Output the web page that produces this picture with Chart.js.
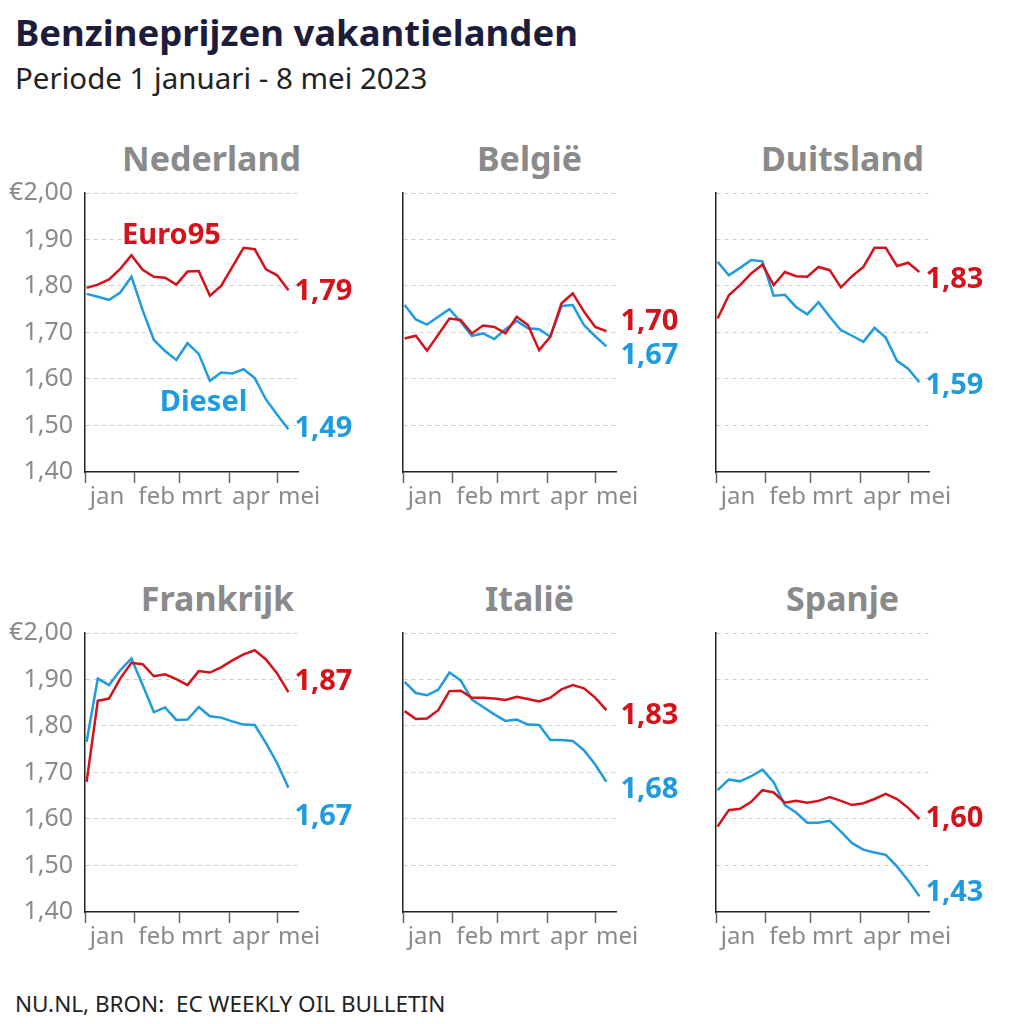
<!DOCTYPE html>
<html>
<head>
<meta charset="utf-8">
<title>Benzineprijzen vakantielanden</title>
<script src="https://cdn.jsdelivr.net/npm/chart.js@4"></script>
<style>
  body { margin: 0; background: #fff; font-family: 'Noto Sans', sans-serif; }
  #page { position: relative; width: 1024px; height: 1024px; overflow: hidden; background: #fff; }
  .title { position: absolute; left: 15px; top: 10px; font-size: 36.5px; line-height: 44px; font-weight: 700; color: #1c1c3b; white-space: nowrap; }
  .subtitle { position: absolute; left: 15px; top: 60px; font-size: 29.5px; line-height: 36px; color: #222; white-space: nowrap; }
  .footer { position: absolute; left: 15px; top: 990px; font-size: 22.5px; line-height: 28px; color: #222; white-space: pre; }
  .panel-title { position: absolute; width: 300px; text-align: center; font-size: 34px; line-height: 40px; font-weight: 700; color: #8a8a8a; }
  .box { position: absolute; width: 370px; }
</style>
</head>
<body>
<div id="page">
  <div class="title">Benzineprijzen vakantielanden</div>
  <div class="subtitle">Periode 1 januari - 8 mei 2023</div>
  <div class="footer">NU.NL, BRON:  EC WEEKLY OIL BULLETIN</div>
</div>

<script>
'use strict';

// ***** DATA *****
const weeks = [
  '2023-01-02', '2023-01-09', '2023-01-16', '2023-01-23', '2023-01-30',
  '2023-02-06', '2023-02-13', '2023-02-20', '2023-02-27',
  '2023-03-06', '2023-03-13', '2023-03-20', '2023-03-27',
  '2023-04-03', '2023-04-10', '2023-04-17', '2023-04-24',
  '2023-05-01', '2023-05-08'
];
const monthStarts = ['2023-01-01', '2023-02-01', '2023-03-01', '2023-04-01', '2023-05-01'];
const monthLabels = ['jan', 'feb', 'mrt', 'apr', 'mei'];
const priceTicks = [1.40, 1.50, 1.60, 1.70, 1.80, 1.90, 2.00];

const countries = ['Nederland', 'België', 'Duitsland', 'Frankrijk', 'Italië', 'Spanje'];
const seriesNames = ['Euro95', 'Diesel'];

const euro95NL = [1.796, 1.803, 1.814, 1.837, 1.866, 1.835, 1.820, 1.818, 1.803, 1.831, 1.832, 1.779, 1.800, 1.841, 1.882, 1.879, 1.836, 1.823, 1.791];
const dieselNL = [1.783, 1.777, 1.770, 1.786, 1.820, 1.748, 1.684, 1.660, 1.641, 1.677, 1.654, 1.596, 1.614, 1.612, 1.621, 1.602, 1.556, 1.523, 1.492];

const euro95BE = [1.687, 1.693, 1.661, 1.695, 1.730, 1.727, 1.698, 1.715, 1.712, 1.698, 1.734, 1.716, 1.662, 1.691, 1.763, 1.784, 1.745, 1.712, 1.703];
const dieselBE = [1.759, 1.728, 1.717, 1.734, 1.750, 1.723, 1.693, 1.698, 1.686, 1.707, 1.725, 1.709, 1.707, 1.691, 1.757, 1.759, 1.716, 1.692, 1.670];

const euro95DE = [1.730, 1.780, 1.802, 1.827, 1.846, 1.802, 1.830, 1.821, 1.820, 1.841, 1.834, 1.797, 1.821, 1.841, 1.882, 1.882, 1.843, 1.850, 1.830];
const dieselDE = [1.852, 1.823, 1.839, 1.856, 1.853, 1.779, 1.781, 1.755, 1.739, 1.765, 1.734, 1.705, 1.693, 1.680, 1.710, 1.689, 1.639, 1.622, 1.593];

const euro95FR = [1.680, 1.854, 1.859, 1.902, 1.936, 1.933, 1.907, 1.911, 1.901, 1.888, 1.918, 1.915, 1.926, 1.941, 1.954, 1.963, 1.943, 1.913, 1.873];
const dieselFR = [1.766, 1.902, 1.888, 1.920, 1.945, 1.888, 1.830, 1.840, 1.813, 1.814, 1.841, 1.821, 1.818, 1.810, 1.803, 1.802, 1.763, 1.720, 1.667];

const euro95IT = [1.832, 1.815, 1.816, 1.834, 1.875, 1.876, 1.861, 1.861, 1.859, 1.856, 1.863, 1.858, 1.853, 1.861, 1.879, 1.888, 1.881, 1.861, 1.834];
const dieselIT = [1.895, 1.871, 1.866, 1.878, 1.915, 1.898, 1.857, 1.841, 1.825, 1.811, 1.814, 1.803, 1.802, 1.770, 1.770, 1.768, 1.748, 1.717, 1.680];

const euro95ES = [1.584, 1.619, 1.622, 1.637, 1.662, 1.657, 1.635, 1.639, 1.635, 1.639, 1.647, 1.639, 1.630, 1.634, 1.643, 1.654, 1.643, 1.624, 1.600];
const dieselES = [1.662, 1.685, 1.681, 1.692, 1.706, 1.679, 1.630, 1.614, 1.592, 1.592, 1.596, 1.573, 1.548, 1.534, 1.528, 1.523, 1.498, 1.468, 1.434];

const euro95 = [euro95NL, euro95BE, euro95DE, euro95FR, euro95IT, euro95ES];
const diesel = [dieselNL, dieselBE, dieselDE, dieselFR, dieselIT, dieselES];

// ***** LAYOUT / STYLE *****
const RED = '#d3121b';
const BLUE = '#1f9be0';
const GREY = '#8a8a8a';
const AXIS = '#222';
const TICK = '#666';

const colX = [85, 403, 716];
const rowY = [193, 633];
const plotW = 213;
const plotH = 279;
const padTop = 30;
const yAxisW = 85;
const xAxisH = 48;
const boxW = 370;
const padRight = boxW - yAxisW - plotW;

// gap between line end and its value, per column, in px
const labelGap = [6, 14, 6];
// small vertical nudges of the end values [euro95, diesel], in px
const endNudge = [[2, 0], [0, 0], [8, 3], [-10, 29], [6, 8], [0, -3]];
// small horizontal shifts of the panel titles, in px
const titleShift = [0, 0, 0, 6, 0, 0];
// series names written inside the first panel (day of year, price)
const inlineNames = [
  { text: 'Euro95', day: 54, price: 1.909, color: RED },
  { text: 'Diesel', day: 74, price: 1.548, color: BLUE }
];

// ***** HELPERS *****
function dayOfYear(iso) {
  const p = iso.split('-').map(Number);
  return (Date.UTC(p[0], p[1] - 1, p[2]) - Date.UTC(2023, 0, 1)) / 86400000;
}

function fmt(v) {
  return v.toFixed(2).replace('.', ',');
}

function toPoints(values) {
  return values.map((v, i) => ({ x: dayOfYear(weeks[i]), y: v }));
}

const endLabels = {
  id: 'endLabels',
  afterDatasetsDraw(chart, args, opts) {
    const ctx = chart.ctx;
    const ends = chart.data.datasets.map((ds, i) => {
      const meta = chart.getDatasetMeta(i);
      const pt = meta.data[meta.data.length - 1];
      return { x: pt.x, y: pt.y, value: ds.data[ds.data.length - 1].y, color: ds.borderColor };
    });
    // keep the two values apart
    const minGap = 34;
    if (Math.abs(ends[0].y - ends[1].y) < minGap) {
      const mid = (ends[0].y + ends[1].y) / 2;
      const upper = ends[0].y <= ends[1].y ? 0 : 1;
      ends[upper].y = mid - minGap / 2;
      ends[1 - upper].y = mid + minGap / 2;
    }
    ctx.save();
    ctx.font = "700 29px 'Noto Sans'";
    ctx.textAlign = 'left';
    ctx.textBaseline = 'middle';
    ends.forEach((e, i) => {
      ctx.fillStyle = e.color;
      ctx.fillText(fmt(e.value), e.x + opts.gap, e.y + opts.nudge[i]);
    });
    if (opts.names) {
      const xs = chart.scales.x;
      const ys = chart.scales.y;
      ctx.font = "700 29px 'Noto Sans'";
      ctx.textAlign = 'center';
      opts.names.forEach(n => {
        ctx.fillStyle = n.color;
        ctx.fillText(n.text, xs.getPixelForValue(n.day), ys.getPixelForValue(n.price));
      });
    }
    ctx.restore();
  }
};

Chart.defaults.font.family = "'Noto Sans', sans-serif";
Chart.defaults.color = GREY;

const page = document.getElementById('page');
const xTickValues = monthStarts.map(dayOfYear);

countries.forEach((name, idx) => {
  const col = idx % 3;
  const row = Math.floor(idx / 3);
  const axisX = colX[col];
  const top = rowY[row];

  let title = document.createElement('div');
  title.className = 'panel-title';
  title.textContent = name;
  title.style.left = (axisX + plotW / 2 + 20 - 150 + titleShift[idx]) + 'px';
  title.style.top = (top - 55) + 'px';
  page.appendChild(title);

  let box = document.createElement('div');
  box.className = 'box';
  box.style.left = (axisX - yAxisW) + 'px';
  box.style.top = (top - padTop) + 'px';
  box.style.height = (padTop + plotH + xAxisH) + 'px';
  let canvas = document.createElement('canvas');
  box.appendChild(canvas);
  page.appendChild(box);

  new Chart(canvas, {
    type: 'line',
    data: {
      datasets: [
        { label: seriesNames[0], data: toPoints(euro95[idx]), borderColor: RED, borderWidth: 2.5, pointRadius: 0, tension: 0, fill: false },
        { label: seriesNames[1], data: toPoints(diesel[idx]), borderColor: BLUE, borderWidth: 2.5, pointRadius: 0, tension: 0, fill: false }
      ]
    },
    options: {
      responsive: true,
      maintainAspectRatio: false,
      animation: false,
      events: [],
      layout: { padding: { left: 0, right: padRight, top: padTop, bottom: 0 } },
      scales: {
        x: {
          type: 'linear',
          min: 0,
          max: 133,
          afterFit: (scale) => { scale.height = xAxisH; },
          afterBuildTicks: (scale) => { scale.ticks = xTickValues.map(v => ({ value: v })); },
          ticks: {
            autoSkip: false,
            maxRotation: 0,
            labelOffset: 22,
            padding: 0,
            color: GREY,
            font: { size: 24 },
            callback: (v, i) => monthLabels[i]
          },
          grid: { drawOnChartArea: false, drawTicks: true, tickLength: 11, tickColor: TICK, tickWidth: 1.5 },
          border: { display: true, color: AXIS, width: 1.5 }
        },
        y: {
          min: priceTicks[0],
          max: priceTicks[priceTicks.length - 1],
          afterFit: (scale) => { scale.width = yAxisW; },
          afterBuildTicks: (scale) => { scale.ticks = priceTicks.map(v => ({ value: v })); },
          ticks: {
            display: col === 0,
            padding: 12,
            color: GREY,
            font: { size: 25 },
            callback: (v, i) => (i === priceTicks.length - 1 ? '€' : '') + fmt(v)
          },
          grid: {
            drawTicks: false,
            color: (c) => (c.index === 0 ? 'rgba(0,0,0,0)' : '#cfcfcf'),
            lineWidth: 1
          },
          border: { display: true, color: AXIS, width: 1.5, dash: [4, 4] }
        }
      },
      plugins: {
        legend: { display: false },
        tooltip: { enabled: false },
        endLabels: { gap: labelGap[col], nudge: endNudge[idx], names: idx === 0 ? inlineNames : null }
      }
    },
    plugins: [endLabels]
  });
});
</script>
</body>
</html>
